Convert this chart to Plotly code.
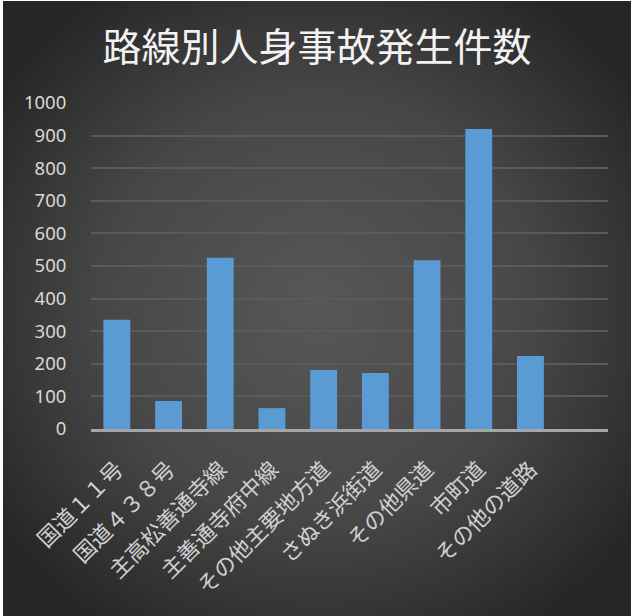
import base64
import plotly.graph_objects as go

categories = ["国道１１号", "国道４３８号", "主高松善通寺線", "主善通寺府中線",
              "その他主要地方道", "さぬき浜街道", "その他県道", "市町道", "その他の道路", " "]
values = [335, 86, 525, 64, 181, 172, 518, 920, 224, None]
y_ticks = [0, 100, 200, 300, 400, 500, 600, 700, 800, 900, 1000]

W, H = 628, 615
L, R, T, B = 88, 23, 102, 187
pw, ph = W - L - R, H - T - B

svg = f'''<svg xmlns="http://www.w3.org/2000/svg" width="{W}" height="{H}" viewBox="0 0 {W} {H}" preserveAspectRatio="none">
<defs><radialGradient id="g" cx="50%" cy="50%" r="62%">
<stop offset="0" stop-color="#575757"/><stop offset="0.55" stop-color="#474747"/><stop offset="1" stop-color="#262626"/>
</radialGradient></defs>
<rect x="0" y="0" width="{W}" height="{H}" fill="url(#g)"/>
</svg>'''
src = "data:image/svg+xml;base64," + base64.b64encode(svg.encode()).decode()

fig = go.Figure()
fig.add_trace(go.Bar(
    x=categories, y=values,
    marker=dict(color="#5b9bd5", line=dict(width=0)),
    width=0.52,
))

fig.add_layout_image(dict(
    source=src, xref="paper", yref="paper",
    x=-L / pw, y=(ph + T) / ph, sizex=W / pw, sizey=H / ph,
    xanchor="left", yanchor="top", sizing="stretch", layer="below",
))

fig.update_layout(
    width=W, height=H,
    margin=dict(l=L, r=R, t=T, b=B),
    paper_bgcolor="#3a3a3a",
    plot_bgcolor="rgba(0,0,0,0)",
    showlegend=False,
    title=dict(text="路線別人身事故発生件数", x=0.5, xref="container", xanchor="center",
               y=1 - 46 / H, yanchor="middle",
               font=dict(family="Noto Sans CJK JP", size=39, color="#f2f2f2")),
    bargap=0.48,
)
fig.update_yaxes(
    range=[0, 1000], tickvals=y_ticks, showgrid=True, gridcolor="#5a5a5a", gridwidth=1.5,
    zeroline=False, showline=False, ticks="outside", ticklen=20, tickcolor="rgba(0,0,0,0)",
    tickfont=dict(family="Noto Sans", size=18.5, color="#d9d9d9"),
    automargin=False,
)
fig.update_xaxes(
    showline=True, linecolor="#a6a6a6", linewidth=2.5, ticks="outside", ticklen=16,
    tickcolor="rgba(0,0,0,0)", showgrid=False,
    tickangle=-45, tickfont=dict(family="Noto Sans CJK JP", size=22, color="#d0d0d0"),
    automargin=False, range=[-0.5, 9.5],
)

fig.write_html("out.html", post_script="document.body.style.margin='1px 0 0 3px';")
